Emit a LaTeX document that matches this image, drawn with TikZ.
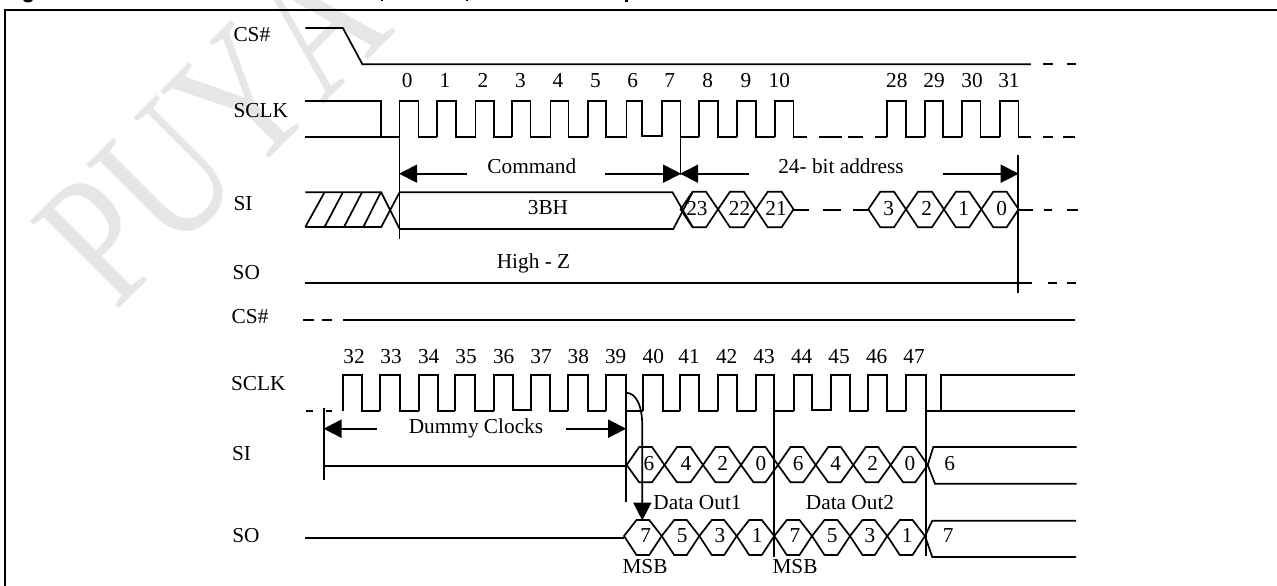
\documentclass[tikz,border=0pt]{standalone}
\usepackage{fontspec}
\setmainfont{Liberation Serif}
\newfontfamily\wmfont[Kerning=Off]{Liberation Serif}
\usetikzlibrary{arrows.meta}
\definecolor{wm}{HTML}{E6E6E6}
\tikzset{
  wave/.style={line width=1.7pt,line join=miter,line cap=butt,black},
  frameline/.style={line width=1.8pt,black},
  dim/.style={line width=1.7pt,black,-{Triangle[length=18pt,width=18pt]},shorten >=-0.5pt},
  lab/.style={inner sep=0pt,outer sep=0pt,font=\fontsize{21.3}{21.3}\selectfont,text height=14pt,text depth=0pt,anchor=center},
  sig/.style={lab,anchor=west},
  wmark/.style={inner sep=0pt,anchor=base west,rotate=45,xscale=0.77,text=wm,font=\wmfont\fontsize{190}{190}\selectfont}
}
\newcommand{\tl}[4]{\node[lab] (#1) at (#2,#3) {#4};}
\newcommand{\pulses}[3]{\foreach \r/\f/\n/\l in {#3} {\draw[wave] (\r,#2)--(\r,#1)--(\f,#1)--(\f,\l)--(\n,\l);}}
\newcommand{\hexrow}[5]{\foreach \a/\b in {#5} {\draw[wave] (\a,#2)--({\a+#4},#1)--({\b-#4},#1)--(\b,#2)--({\b-#4},#3)--({\a+#4},#3)--cycle;}}
\begin{document}
\begin{tikzpicture}[x=1pt,y=-1pt]
\useasboundingbox (0,0) rectangle (1277,586);
\begin{scope}
\clip (0,0) rectangle (1277,586);
\node[wmark] (water) at (115,313) {PUYA};
\end{scope}
% title fragments and frame
\fill (23,0) .. controls (25,3.4) and (31,3.4) .. (33,0) -- cycle;
\fill (381,0) rectangle (383,1.5);
\fill (466,0) rectangle (468,1.5);
\fill (625,0) rectangle (628,2);
\draw[frameline] (5,586)--(5,10)--(1277,10);

% ---------- upper half
\node[sig] (cs1) at (233.5,34.3) {CS\#};
\node[sig] (sclk1) at (233.5,110.7) {SCLK};
\node[sig] (si1) at (233.5,203.3) {SI};
\node[sig] (so1) at (232.7,272.3) {SO};
% CS#
\draw[wave] (305.3,28)--(342.9,28)--(362.4,64.3)--(1030.8,64.3);
\draw[wave] (1043,64.3)--(1053,64.3) (1066.6,64.3)--(1076,64.3);
% SCLK
\draw[wave] (305.3,100.7)--(381.2,100.7)--(381.2,137);
\draw[wave] (305.3,137)--(399.6,137);
\pulses{100.7}{137}{399.6/418.4/437.1/137,437.1/455.9/475.5/137,475.5/493.9/512.2/137,512.2/530.6/550.6/137,550.6/568.6/587.8/137,587.8/606.1/626.5/137,626.5/642/662.3/136,662.3/680.6/698.9/137,698.9/718/736.7/137,736.7/755.8/774.9/137,774.9/793.6/806.6/137,887/906/925.2/137,925.2/943/961.8/137,961.8/980.4/1000.3/137,1000.3/1018.6/1030.8/137}
\draw[wave] (818.8,137)--(842.3,137) (848,137)--(863.4,137) (874.8,137)--(887,137);
\draw[wave] (1043,137)--(1053,137) (1062.5,137)--(1074.7,137);
% edge markers
\draw[wave] (399.6,137)--(399.6,239.3);
\draw[wave] (680.6,137)--(680.6,175);
\draw[wave] (1018.2,155)--(1018.2,293.3);
% dimension arrows
\coordinate (c0) at (399.6,173.7); \coordinate (c1) at (467.3,173.7);
\coordinate (c2) at (604.9,173.7); \coordinate (c3) at (680.6,173.7);
\coordinate (c4) at (748.5,173.7); \coordinate (c5) at (942.7,173.7);
\coordinate (c6) at (1018.2,173.7);
\draw[dim] (c1)--(c0); \draw[dim] (c2)--(c3); \draw[dim] (c4)--(c3); \draw[dim] (c5)--(c6);
% SI
\draw[wave] (305.3,192.3)--(381.2,192.3)--(399.6,229);
\draw[wave] (305.3,227)--(381.2,227)--(399.6,192.3);
\draw[wave] (305.3,227)--(324.5,192.3) (324.5,227)--(342.9,192.3) (344,227)--(362,192.3) (363.3,227)--(380.8,192.3);
\draw[wave] (399.6,192.3)--(672.5,192.3)--(692.8,227.3);
\draw[wave] (399.6,229)--(673.3,229)--(692.8,191.7);
\hexrow{191.7}{209.3}{227.3}{12}{680.6/718,718/755.8,755.8/793.6,868.3/906,906/943.9,943.9/981.3,981.3/1018.6}
\draw[wave] (793.6,209.8)--(808.6,209.8) (822.8,209.8)--(841,209.8) (853.3,209.8)--(868.3,209.8);
\draw[wave] (1018.6,209.8)--(1033,209.8) (1044,209.8)--(1052,209.8) (1067.4,209.8)--(1078,209.8);
% SO
\draw[wave] (305.3,283.3)--(1032,283.3);
\draw[wave] (1047.5,283.3)--(1057,283.3) (1066.6,283.3)--(1076,283.3);
% numbers
\foreach \t/\x in {0/407.3,1/444.9,2/482.9,3/520.4,4/558,5/595.5,6/632.7,7/669.7,8/707.8,9/746,10/779.3,28/896.8,29/934,30/972,31/1008.9}
  \node[lab] (n\t) at (\x,80.3) {\t};
\tl{cmd}{531.8}{166.7}{Command}
\tl{addr}{841}{166.7}{24- bit address}
\tl{thb}{548}{207}{3BH}
\tl{hiz}{533.5}{261.5}{High - Z}
\foreach \t/\x in {23/696.9,22/739.5,21/776,3/888.6,2/926.8,1/963.8,0/1001.6}
  \node[lab] (a\t) at (\x,208.3) {\t};

% ---------- lower half
\node[sig] (cs2) at (231.7,316.7) {CS\#};
\node[sig] (sclk2) at (231,383.5) {SCLK};
\node[sig] (si2) at (232,453.3) {SI};
\node[sig] (so2) at (232.3,535) {SO};
\draw[wave] (303.3,320.3)--(314,320.3) (321.7,320.3)--(332.3,320.3) (343.3,320.3)--(1075,320.3);
% SCLK
\draw[wave] (306,411)--(313.3,411) (326,411)--(332.3,411);
\pulses{375.3}{410.5}{343.3/362/380.3/411,380.3/400/419/411,419/437.7/455.3/411,455.3/475.3/494/411,494/512.7/530.7/409.7,530.7/550/568.3/411,568.3/587.7/606/411,606/625.7/643.3/411,643.3/662.7/680/411,680/699.3/718.3/411,718.3/736.7/755.7/411,755.7/774.3/794/411,794/812/830.7/409.7,830.7/850/868.3/411,868.3/887.3/906/411,906/925.7/943/411}
\draw[wave] (943,411)--(1075,411);
\draw[wave] (941,411)--(941,375.3)--(1075,375.3);
% markers
\draw[wave] (324,407.7)--(324,480.3);
\draw[wave] (625.7,411)--(625.7,501.7);
\draw[wave] (774.3,411)--(774.3,556.7);
\draw[wave] (925.7,411)--(925.7,555.7);
% dummy arrows
\coordinate (d0) at (324,428.7); \coordinate (d1) at (376.7,428.7);
\coordinate (d2) at (566,428.7); \coordinate (d3) at (625.7,428.7);
\draw[dim] (d1)--(d0); \draw[dim] (d2)--(d3);
\tl{dummy}{476}{426.7}{Dummy Clocks}
% SI
\draw[wave] (324,465.7)--(626.7,465.7);
\hexrow{447}{465}{482.3}{12.5}{626.7/664.5,664.5/703,703/741,741/778,778/815.7,815.7/853.3,853.3/890.7,890.7/927.7}
\draw[wave] (927.7,465)--(933.3,447)--(1076.7,447);
\draw[wave] (927.7,465)--(935,483.7)--(1076.7,483.7);
% SO
\draw[wave] (305,538.3)--(624,538.3);
\hexrow{520}{536}{555}{12.5}{624/661.7,661.7/699.3,699.3/736.7,736.7/774.3,774.3/812,812/850,850/887.3,887.3/925}
\draw[wave] (925,536)--(932.3,520.7)--(1076,520.7);
\draw[wave] (925,536)--(932.3,557)--(1076,557);
% data arrow
\coordinate (t0) at (625.7,392.7); \coordinate (t1) at (642.3,426.7); \coordinate (t2) at (642.3,520);
\draw[dim] (t0) .. controls (636,392.7) and (642.3,405) .. (t1) -- (t2);
% numbers
\foreach \t/\x in {32/354,33/391,34/428.7,35/466,36/503.7,37/541,38/578.3,39/615.7,40/653.3,41/689,42/726.7,43/764,44/801.7,45/839,46/876.7,47/914}
  \node[lab] (n\t) at (\x,356) {\t};
\foreach \i/\t/\x in {a/6/649,b/4/686,c/2/722.7,d/0/761,e/6/798.3,f/4/835.7,g/2/872.7,h/0/910,i/6/949.7}
  \node[lab] (si\i) at (\x,463.3) {\t};
\foreach \i/\t/\x in {a/7/645.7,b/5/682.3,c/3/720,d/1/757.3,e/7/795,f/5/832.3,g/3/870,h/1/907.3,i/7/948.3}
  \node[lab] (so\i) at (\x,535) {\t};
\tl{out1}{697.5}{502.7}{Data Out1}
\tl{out2}{850}{502.7}{Data Out2}
\tl{msb1}{645}{566.7}{MSB}
\tl{msb2}{795}{566.7}{MSB}
\end{tikzpicture}
\end{document}
